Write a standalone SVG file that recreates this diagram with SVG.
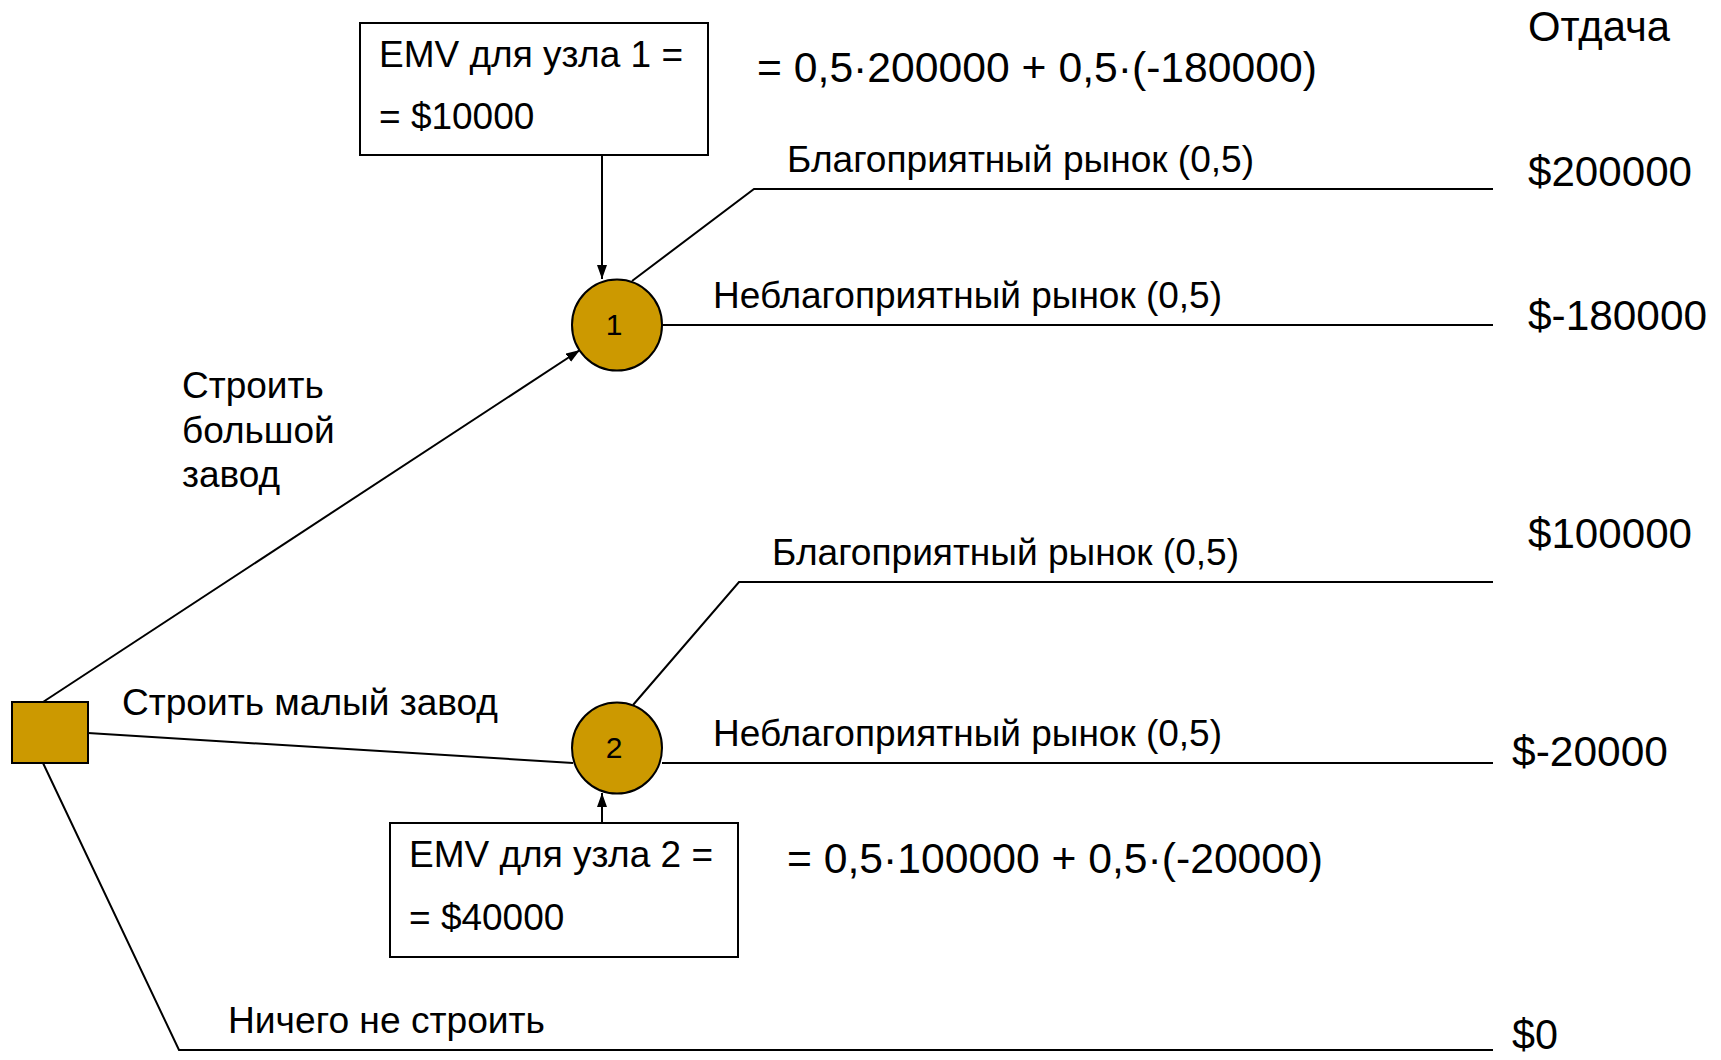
<svg xmlns="http://www.w3.org/2000/svg" width="1721" height="1060" viewBox="0 0 1721 1060">
<defs>
<style>
text{font-family:"Liberation Sans",Arial,sans-serif;fill:#000}
.lbl{font-size:37px}
.pay{font-size:42px}
.frm{font-size:43px}
.num{font-size:30px}
.ln{fill:none;stroke:#000;stroke-width:2}
.node{fill:#CC9900;stroke:#000;stroke-width:2}
.box{fill:#fff;stroke:#000;stroke-width:2}
</style>
<marker id="ah" markerUnits="userSpaceOnUse" markerWidth="14" markerHeight="10" viewBox="0 0 14 10" refX="14" refY="5" orient="auto">
<path d="M0,0 L14,5 L0,10 z" fill="#000"/>
</marker>
</defs>
<rect width="1721" height="1060" fill="#fff"/>
<g id="connectors">
<line class="ln" x1="43" y1="702" x2="580" y2="350" marker-end="url(#ah)"/>
<line class="ln" x1="602" y1="155" x2="602" y2="279" marker-end="url(#ah)"/>
<polyline class="ln" points="632,281 754,189 1493,189"/>
<line class="ln" x1="662" y1="325" x2="1493" y2="325"/>
<line class="ln" x1="88" y1="733" x2="573" y2="763"/>
<polyline class="ln" points="633,705 739,582 1493,582"/>
<line class="ln" x1="662" y1="763" x2="1493" y2="763"/>
<line class="ln" x1="602" y1="823" x2="602" y2="793" marker-end="url(#ah)"/>
<polyline class="ln" points="43,763 179,1050 1493,1050"/>
</g>
<g id="decision">
<rect class="node" x="12" y="702" width="76" height="61"/>
</g>
<g id="node1">
<ellipse class="node" cx="617" cy="325" rx="45" ry="45.5"/>
<text class="num" x="614" y="335" text-anchor="middle">1</text>
</g>
<g id="node2">
<ellipse class="node" cx="617" cy="748" rx="45" ry="45.5"/>
<text class="num" x="614" y="758" text-anchor="middle">2</text>
</g>
<g id="emv1">
<rect class="box" x="360" y="23" width="348" height="132"/>
<text class="lbl" x="379" y="67" textLength="304" lengthAdjust="spacingAndGlyphs">EMV для узла 1 =</text>
<text class="lbl" x="379" y="129">= $10000</text>
</g>
<g id="emv2">
<rect class="box" x="390" y="823" width="348" height="134"/>
<text class="lbl" x="409" y="867" textLength="304" lengthAdjust="spacingAndGlyphs">EMV для узла 2 =</text>
<text class="lbl" x="409" y="930">= $40000</text>
</g>
<g id="labels">
<text class="frm" x="757" y="82" textLength="560" lengthAdjust="spacingAndGlyphs">= 0,5·200000 + 0,5·(-180000)</text>
<text class="frm" x="787" y="873" textLength="536" lengthAdjust="spacingAndGlyphs">= 0,5·100000 + 0,5·(-20000)</text>
<text class="lbl" x="787" y="172" textLength="467" lengthAdjust="spacingAndGlyphs">Благоприятный рынок (0,5)</text>
<text class="lbl" x="713" y="308" textLength="509" lengthAdjust="spacingAndGlyphs">Неблагоприятный рынок (0,5)</text>
<text class="lbl" x="772" y="565" textLength="467" lengthAdjust="spacingAndGlyphs">Благоприятный рынок (0,5)</text>
<text class="lbl" x="713" y="746" textLength="509" lengthAdjust="spacingAndGlyphs">Неблагоприятный рынок (0,5)</text>
<text class="lbl" x="182" y="398">Строить</text>
<text class="lbl" x="182" y="443">большой</text>
<text class="lbl" x="182" y="487">завод</text>
<text class="lbl" x="122" y="715" textLength="376" lengthAdjust="spacingAndGlyphs">Строить малый завод</text>
<text class="lbl" x="228" y="1033" textLength="317" lengthAdjust="spacingAndGlyphs">Ничего не строить</text>
</g>
<g id="payoffs">
<text class="pay" x="1528" y="41" textLength="142" lengthAdjust="spacingAndGlyphs">Отдача</text>
<text class="pay" x="1528" y="186" textLength="164" lengthAdjust="spacingAndGlyphs">$200000</text>
<text class="pay" x="1528" y="330" textLength="179" lengthAdjust="spacingAndGlyphs">$-180000</text>
<text class="pay" x="1528" y="548" textLength="164" lengthAdjust="spacingAndGlyphs">$100000</text>
<text class="pay" x="1512" y="766" textLength="156" lengthAdjust="spacingAndGlyphs">$-20000</text>
<text class="pay" x="1512" y="1049" textLength="46" lengthAdjust="spacingAndGlyphs">$0</text>
</g>
</svg>
